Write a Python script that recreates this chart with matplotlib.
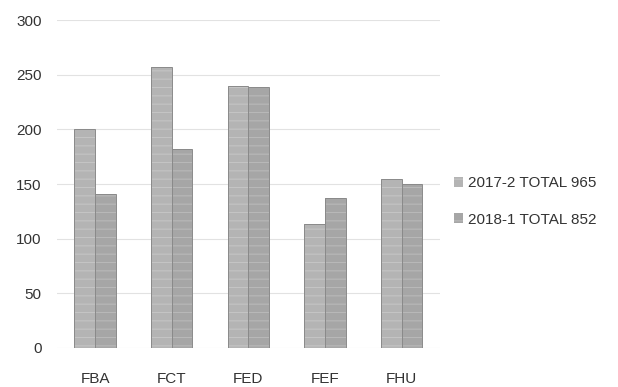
import numpy as np
import matplotlib
matplotlib.use("Agg")
import matplotlib.pyplot as plt

categories = ["FBA", "FCT", "FED", "FEF", "FHU"]
vals_2017 = [200, 257, 240, 113, 155]
vals_2018 = [141, 182, 239, 137, 150]
labels = ["2017-2 TOTAL 965", "2018-1 TOTAL 852"]
yticks = [0, 50, 100, 150, 200, 250, 300]

plt.rcParams['font.family'] = ['Liberation Sans', 'DejaVu Sans']
plt.rcParams['hatch.linewidth'] = 0.8

fig = plt.figure(figsize=(6.18, 3.87), dpi=100)
ax = fig.add_axes([0.092, 0.101, 0.62, 0.847])

x = np.arange(len(categories))
w = 0.27
b1 = ax.bar(x - w / 2, vals_2017, w, color='#b4b4b4', edgecolor='#c4c4c4',
            linewidth=0, hatch='--', label=labels[0])
b2 = ax.bar(x + w / 2, vals_2018, w, color='#a6a6a6', edgecolor='#b8b8b8',
            linewidth=0, hatch='--', label=labels[1])
# darker outline around each bar
for b in list(b1) + list(b2):
    ax.add_patch(plt.Rectangle(b.get_xy(), b.get_width(), b.get_height(),
                               fill=False, edgecolor='#8a8a8a', linewidth=0.7))

ax.set_ylim(0, 300)
ax.set_xlim(-0.5, 4.5)
ax.set_yticks(yticks)
ax.set_xticks(x)
ax.set_xticklabels(categories)
ax.yaxis.grid(True, color='#e2e2e2', linewidth=0.8)
ax.set_axisbelow(True)
for s in ax.spines.values():
    s.set_visible(False)
ax.tick_params(length=0, labelsize=11, colors='#333333')
ax.tick_params(axis='y', pad=11)
ax.tick_params(axis='x', pad=17)

ax.legend(loc='upper left', bbox_to_anchor=(1.0, 0.565), frameon=False,
          fontsize=11, handlelength=0.6, handleheight=0.6, labelspacing=1.45,
          handletextpad=0.3, labelcolor='#333333')

fig.savefig("out.png", dpi=100)
